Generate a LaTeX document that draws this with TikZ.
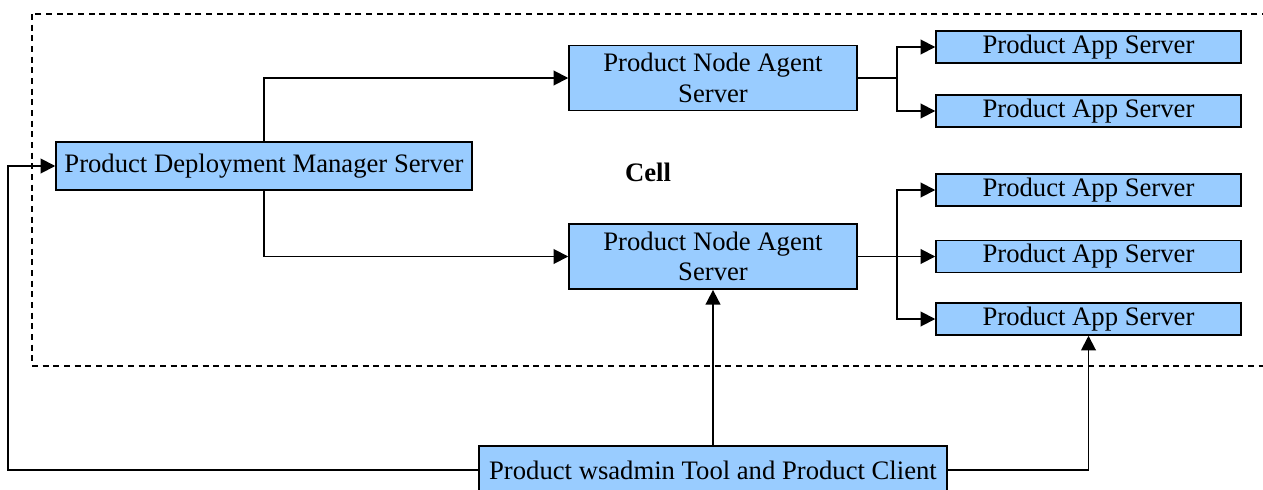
\documentclass[tikz,border=0pt]{standalone}
\usepackage{fontspec}
\setmainfont{Liberation Serif}
\usetikzlibrary{arrows.meta}
\definecolor{boxblue}{HTML}{99CCFF}

\begin{document}
\begin{tikzpicture}[x=0.75pt,y=-0.75pt,
     block/.style = {draw, rectangle, fill=boxblue, line width=1.1pt, inner sep=0pt,
      align=center, font=\fontsize{20}{23}\selectfont},
     appbox/.style = {block, minimum width=228.75pt, minimum height=24pt},
     agent/.style = {block, minimum width=216pt, minimum height=49pt},
     arrow/.style = {draw, line width=1.4pt, -{Triangle[length=11pt,width=11pt]}},
     line/.style = {draw, line width=1.4pt},
     cellbox/.style = {draw, line width=1.3pt, dash pattern=on 4.5pt off 3.5pt}
    ]
    \useasboundingbox (0,0) rectangle (1263,489);
    \clip (0,0) rectangle (1263,489);

    \draw[cellbox] (32,14) rectangle (1290,366);
    \node [font=\fontsize{20}{23}\selectfont\bfseries] (cell) at (648,172) {Cell};

    \node [block, minimum width=312pt, minimum height=36pt] (dms) at (264,166) {Product Deployment Manager Server};
    \node [agent] (agent1) at (713,78) {Product Node Agent\\Server};
    \node [agent] (agent2) at (713,256.5) {Product Node Agent\\Server};
    \node [appbox] (app1) at (1088.5,47) {Product App Server};
    \node [appbox] (app2) at (1088.5,111) {Product App Server};
    \node [appbox] (app3) at (1088.5,190) {Product App Server};
    \node [appbox] (app4) at (1088.5,256.5) {Product App Server};
    \node [appbox] (app5) at (1088.5,319) {Product App Server};
    \node [block, minimum width=351pt, minimum height=36pt] (wsadmin) at (713,470) {Product wsadmin Tool and Product Client};

    \coordinate (split1) at (897,78);
    \coordinate (split2) at (897,256.5);
    \coordinate (back) at (8,166);

    \draw[arrow] (dms.north) |- (agent1.west);
    \draw[arrow] (dms.south) |- (agent2.west);
    \draw[line] (agent1.east) -- (split1);
    \draw[arrow] (split1) |- (app1.west);
    \draw[arrow] (split1) |- (app2.west);
    \draw[line] (agent2.east) -- (split2);
    \draw[arrow] (split2) |- (app3.west);
    \draw[arrow] (split2) -- (app4.west);
    \draw[arrow] (split2) |- (app5.west);
    \draw[arrow] (wsadmin.north) -- (agent2.south);
    \draw[arrow] (wsadmin.west) -| (back) -- (dms.west);
    \draw[arrow] (wsadmin.east) -| (app5.south);
\end{tikzpicture}
\end{document}
